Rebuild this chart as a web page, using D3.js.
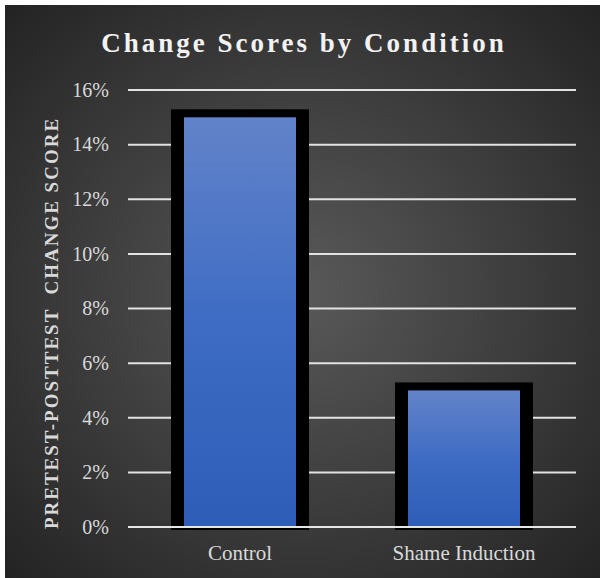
<!DOCTYPE html>
<html>
<head>
<meta charset="utf-8">
<script src="https://cdn.jsdelivr.net/npm/d3@7"></script>
<style>
  html, body { margin: 0; padding: 0; background: #ffffff; }
  svg { display: block; }
</style>
</head>
<body>
<svg id="chart" width="600" height="578"></svg>
<script>
// Mean pretest-to-posttest change, by experimental condition
const categories = ["Control", "Shame Induction"];
const changeScores = [0.15, 0.05];
const yTicks = [0, 0.02, 0.04, 0.06, 0.08, 0.10, 0.12, 0.14, 0.16];

const W = 600, H = 578;
const plot = { left: 128, right: 576, top: 90, bottom: 527 };

const svg = d3.select("#chart");
const defs = svg.append("defs");

// dark radial backdrop
const bg = defs.append("radialGradient").attr("id", "bgGrad")
  .attr("cx", "50%").attr("cy", "50%").attr("r", "72%");
bg.append("stop").attr("offset", "0%").attr("stop-color", "#595959");
bg.append("stop").attr("offset", "100%").attr("stop-color", "#222222");

// vertical blue fill used for each bar
const barGrad = defs.append("linearGradient").attr("id", "barGrad")
  .attr("x1", 0).attr("y1", 0).attr("x2", 0).attr("y2", 1);
barGrad.append("stop").attr("offset", "0%").attr("stop-color", "#6283c9");
barGrad.append("stop").attr("offset", "50%").attr("stop-color", "#3e6cc4");
barGrad.append("stop").attr("offset", "100%").attr("stop-color", "#2e5db7");

svg.append("rect")
  .attr("x", 5).attr("y", 5).attr("width", W - 5).attr("height", H - 5)
  .attr("fill", "url(#bgGrad)");

const x = d3.scaleBand().domain(categories)
  .range([plot.left, plot.right]).paddingInner(0.5).paddingOuter(0.25);
const y = d3.scaleLinear().domain([0, 0.16]).range([plot.bottom, plot.top]);

// horizontal gridlines
svg.append("g")
  .selectAll("line")
  .data(yTicks.filter(t => t > 0))
  .join("line")
  .attr("x1", plot.left).attr("x2", plot.right)
  .attr("y1", d => y(d)).attr("y2", d => y(d))
  .attr("stroke", "#e2e2e2").attr("stroke-width", 2);

// y tick labels
svg.append("g")
  .selectAll("text")
  .data(yTicks)
  .join("text")
  .attr("x", 109).attr("y", d => y(d))
  .attr("dy", "0.34em")
  .attr("text-anchor", "end")
  .attr("font-family", "Liberation Serif, Times New Roman, serif")
  .attr("font-size", 20)
  .attr("fill", "#d9d9d9")
  .text(d3.format(".0%"));

// bars: heavy black frame with blue gradient inside
const bars = svg.append("g").selectAll("g")
  .data(categories.map((c, i) => ({ c, v: changeScores[i] })))
  .join("g");

const sideBorder = 13, topBorder = 8;
bars.append("rect")
  .attr("x", d => x(d.c) - sideBorder)
  .attr("y", d => y(d.v) - topBorder)
  .attr("width", x.bandwidth() + 2 * sideBorder)
  .attr("height", d => y(0) - y(d.v) + topBorder + 3)
  .attr("fill", "#000000");
bars.append("rect")
  .attr("x", d => x(d.c))
  .attr("y", d => y(d.v))
  .attr("width", x.bandwidth())
  .attr("height", d => y(0) - y(d.v))
  .attr("fill", "url(#barGrad)");

// baseline
svg.append("line")
  .attr("x1", plot.left).attr("x2", plot.right)
  .attr("y1", y(0)).attr("y2", y(0))
  .attr("stroke", "#e6e6e6").attr("stroke-width", 2);

// category labels
svg.append("g")
  .selectAll("text")
  .data(categories)
  .join("text")
  .attr("x", d => x(d) + x.bandwidth() / 2)
  .attr("y", 560)
  .attr("text-anchor", "middle")
  .attr("font-family", "Liberation Serif, Times New Roman, serif")
  .attr("font-size", 21)
  .attr("fill", "#d9d9d9")
  .text(d => d);

// y axis title
svg.append("text")
  .attr("transform", "translate(58," + 323 + ") rotate(-90)")
  .attr("text-anchor", "middle")
  .attr("font-family", "Liberation Serif, Times New Roman, serif")
  .attr("font-weight", "bold")
  .attr("font-size", 19)
  .attr("letter-spacing", 2)
  .attr("fill", "#d9d9d9")
  .attr("xml:space", "preserve")
  .text("PRETEST-POSTTEST  CHANGE SCORE");

// chart title
svg.append("text")
  .attr("x", 304).attr("y", 52)
  .attr("text-anchor", "middle")
  .attr("font-family", "Liberation Serif, Times New Roman, serif")
  .attr("font-weight", "bold")
  .attr("font-size", 27)
  .attr("letter-spacing", 3)
  .attr("fill", "#f2f2f2")
  .text("Change Scores by Condition");
</script>
</body>
</html>
